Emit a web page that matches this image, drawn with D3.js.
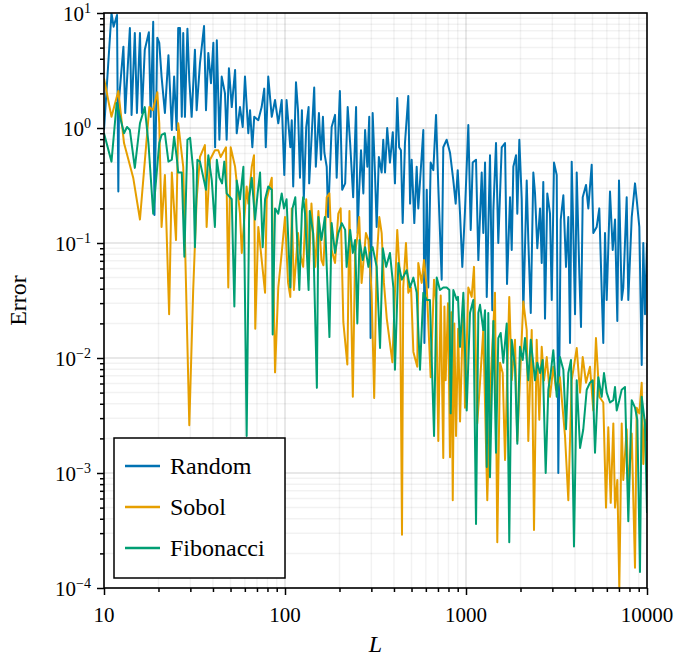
<!DOCTYPE html>
<html>
<head>
<meta charset="utf-8" />
<script src="https://d3js.org/d3.v7.min.js"></script>
<style>
  body { margin: 0; background: #fff; }
</style>
</head>
<body>
<svg width="678" height="660"></svg>
<script>
// Data (L, error)
var randomL = [10,11.0,11.3,11.8,12.0,12.1,12.8,13.1,13.9,14.2,14.8,15.2,15.8,16.2,16.8,17.7,18.1,18.7,19.0,19.7,20.2,20.8,21.7,22.7,23.7,24.4,25.2,25.7,26.3,26.9,27.4,28.0,28.9,29.6,30.5,31.8,32.5,33.9,35.7,36.6,37.7,39.0,40.2,41.1,42.0,43.4,44.7,46.6,47.6,49.0,50.8,53.0,54.1,56.4,58.4,60.1,62.7,64.1,66.0,67.6,71.2,74.3,76.8,78.3,80.8,84.5,88.1,91.8,95.9,99.1,102,107,109,111,115,118,121,124,127,131,135,136,140,145,148,154,158,162,165,170,173,181,189,193,201,207,215,222,229,238,247,252,256,263,271,277,285,292,297,305,314,321,330,342,349,357,367,380,394,405,417,427,437,447,460,480,491,501,518,534,545,564,581,589,607,619,638,660,683,703,734,749,782,816,851,877,900,927,954,987,1030,1062,1089,1136,1170,1221,1246,1274,1302,1357,1397,1416,1465,1508,1575,1643,1685,1751,1789,1826,1890,1921,1971,2032,2073,2165,2209,2279,2355,2406,2477,2565,2620,2673,2732,2813,2911,2977,3064,3171,3236,3337,3450,3569,3675,3755,3837,3917,4003,4090,4227,4319,4414,4603,4740,4949,5051,5273,5450,5618,5735,5861,5989,6246,6465,6657,6855,7003,7247,7396,7723,7883,8233,8585,8770,9069,9349,9541,9750,10000];
var randomErr = [0.96,10,7.6,9.6,0.28,1.75,5.1,1.35,7.4,1.3,6.7,1.35,6.7,1.35,4.8,6.8,1.25,8.4,0.175,6.1,5.5,2.8,1.35,4.3,0.96,2.8,0.96,7.4,7.4,1.25,6.7,1.25,7.3,2.6,1.25,4.8,1.43,3.65,7.7,1.43,4.5,2.45,5.5,0.68,5.8,0.79,2.8,2.0,0.79,3.3,1.52,3.2,0.9,1.52,1.02,2.8,0.9,1.43,0.68,1.25,1.17,1.52,2.2,0.68,2.8,1.25,1.75,1.1,1.75,0.39,1.75,0.68,1.17,0.31,2.5,1.43,0.37,1.43,0.24,1.02,1.52,0.33,0.79,2.25,0.46,1.35,0.53,1.25,0.61,0.46,0.168,1.02,1.3,0.37,2.1,0.29,0.33,1.52,0.74,0.25,1.52,0.122,0.25,0.64,0.27,0.96,0.46,1.25,0.0149,1.35,0.41,0.138,0.56,0.41,0.79,0.41,1.0,0.5,0.92,0.33,1.82,0.68,0.64,0.149,0.74,1.9,0.22,0.53,0.149,0.46,0.2,0.46,0.96,0.0135,0.29,0.041,0.5,0.43,1.3,0.31,0.048,0.68,0.79,0.61,0.35,0.22,0.43,0.18,0.062,0.19,1.06,0.13,0.5,0.53,0.071,0.41,0.122,0.5,0.034,0.58,0.026,0.19,0.74,0.1,0.68,0.74,0.044,0.25,0.087,0.46,0.58,0.18,0.79,0.24,0.0246,0.35,0.106,0.0246,0.41,0.27,0.09,0.2,0.067,0.34,0.022,0.27,0.18,0.032,0.5,0.39,0.001,0.16,0.26,0.062,0.168,0.0135,0.51,0.122,0.024,0.41,0.055,0.0186,0.25,0.32,0.2,0.48,0.122,0.138,0.2,0.039,0.0135,0.122,0.032,0.28,0.087,0.16,0.021,0.35,0.032,0.041,0.25,0.032,0.168,0.33,0.24,0.138,0.0087,0.1,0.024,0.1];

var sobolL = [10,11.0,12.0,12.9,14.5,15.8,17.8,18.6,19.7,20.2,20.8,21.7,22.9,23.7,25.0,25.7,27.4,29.6,31.1,32.5,33.9,36.1,36.9,38.5,41.0,42.8,44.1,47.2,48.6,50.1,53.0,56.4,57.7,61.4,62.7,65.5,67.4,68.5,71.2,77.6,79.2,84.5,88.1,91.8,95.9,100,104,107,109,112,118,121,126,131,135,140,143,147,153,159,163,170,176,181,189,197,203,210,221,227,237,244,251,257,265,280,289,301,311,321,332,342,352,365,392,417,432,443,450,466,480,497,512,538,545,569,586,607,638,666,685,703,725,749,760,772,795,816,830,845,862,881,905,927,967,987,1030,1075,1107,1154,1195,1246,1311,1369,1446,1489,1542,1595,1643,1734,1789,1865,1921,2005,2073,2165,2209,2307,2375,2458,2541,2620,2698,2793,2911,3036,3141,3304,3524,3675,3837,4090,4266,4414,4603,4842,5051,5224,5450,5735,5936,6112,6302,6516,6657,6855,7031,7247,7396,7723,7883,8233,8585,8770,9069,9349,9541,9750,10000];
var sobolErr = [2.7,1.25,2.1,0.74,0.37,0.16,1.52,1.43,2.05,1.1,0.138,0.39,0.024,0.41,0.106,1.1,0.46,0.0026,0.039,0.24,0.56,0.71,0.138,0.53,0.64,0.64,0.56,0.68,0.041,0.68,0.46,0.18,0.082,0.31,0.22,0.46,0.58,0.018,0.138,0.037,0.24,0.37,0.0075,0.041,0.082,0.168,0.045,0.034,0.2,0.039,0.122,0.082,0.062,0.24,0.048,0.22,0.122,0.062,0.19,0.071,0.064,0.25,0.27,0.087,0.067,0.18,0.2,0.0206,0.0088,0.19,0.0046,0.082,0.113,0.168,0.045,0.122,0.106,0.037,0.0045,0.071,0.168,0.122,0.045,0.022,0.0092,0.13,0.05,0.00029,0.041,0.1,0.037,0.041,0.0113,0.0084,0.067,0.045,0.071,0.041,0.0068,0.048,0.03,0.0019,0.035,0.00135,0.028,0.0064,0.03,0.00137,0.025,0.00058,0.02,0.0021,0.018,0.0028,0.032,0.0037,0.041,0.034,0.062,0.0027,0.0061,0.0175,0.00058,0.0064,0.037,0.00025,0.0091,0.0074,0.0013,0.034,0.0064,0.0144,0.0019,0.0091,0.031,0.0175,0.0019,0.0175,0.00032,0.0144,0.0029,0.0125,0.0064,0.0102,0.0046,0.0084,0.0053,0.0068,0.0021,0.00058,0.0064,0.0122,0.005,0.0102,0.0061,0.0084,0.0035,0.0149,0.0046,0.0041,0.0005,0.0025,0.00055,0.0027,0.0005,0.00087,0.0001,0.0027,0.00087,0.0024,0.00067,0.0022,0.00015,0.0037,0.0033,0.0061,0.0012,0.0029,0.0019];

var fibL = [10,11.0,11.75,12.9,13.4,13.9,14.8,15.8,16.8,17.6,18.7,20.2,20.8,21.7,22.7,23.7,24.4,25.2,25.7,26.9,27.8,28.9,29.9,31.1,31.8,32.8,33.9,36.6,37.7,39.4,41.0,42.0,43.4,44.9,46.2,47.6,50.8,52.5,54.1,56.4,58.9,61.4,63.5,65.5,68.3,70.6,72.8,75.3,77.6,80.8,84.5,85.5,88.1,91.8,95.9,98.7,102,107,110,114,120,124,126,129,135,137,143,150,153,159,166,176,181,189,197,206,215,219,229,237,244,251,258,269,277,289,295,305,321,335,347,362,380,397,405,423,442,470,491,512,534,557,581,607,632,666,689,718,749,782,809,823,851,889,903,927,967,1009,1052,1097,1136,1170,1195,1246,1274,1302,1328,1357,1416,1465,1508,1555,1607,1679,1734,1789,1865,1921,1987,2057,2118,2209,2279,2406,2477,2565,2653,2756,2850,2938,3036,3171,3304,3450,3569,3675,3802,3950,4090,4266,4446,4645,4842,5012,5161,5383,5618,5786,5989,6246,6516,6657,6802,7031,7247,7556,7883,8233,8585,8840,9146,9349,9750,10000];
var fibErr = [0.9,0.51,1.65,0.9,1.02,0.96,0.45,1.1,1.52,0.74,0.18,0.74,0.87,0.9,0.51,0.53,0.84,0.56,0.41,0.41,0.076,0.79,0.82,0.43,0.092,0.53,0.51,0.29,0.58,0.35,0.138,0.53,0.37,0.33,0.51,0.27,0.24,0.028,0.35,0.24,0.46,0.0021,0.25,0.37,0.16,0.27,0.41,0.092,0.24,0.31,0.29,0.016,0.2,0.18,0.27,0.2,0.24,0.041,0.2,0.25,0.039,0.19,0.25,0.18,0.039,0.19,0.122,0.0055,0.168,0.106,0.168,0.0152,0.149,0.082,0.122,0.149,0.13,0.062,0.13,0.082,0.106,0.02,0.106,0.071,0.092,0.062,0.082,0.092,0.062,0.0122,0.09,0.062,0.082,0.041,0.0079,0.067,0.048,0.058,0.041,0.05,0.037,0.0079,0.037,0.032,0.032,0.0021,0.05,0.039,0.041,0.041,0.039,0.0033,0.039,0.032,0.034,0.0125,0.037,0.0035,0.0246,0.032,0.00036,0.0246,0.029,0.0175,0.026,0.00113,0.0246,0.00092,0.021,0.0015,0.0149,0.0165,0.0091,0.02,0.00025,0.0144,0.0084,0.0018,0.0125,0.0096,0.0149,0.0064,0.0144,0.0064,0.0091,0.0074,0.0096,0.001,0.0053,0.0074,0.0117,0.0046,0.0102,0.0079,0.0024,0.0074,0.0096,0.00023,0.0064,0.00165,0.0024,0.0053,0.0061,0.0064,0.0015,0.0068,0.0046,0.0074,0.005,0.0041,0.0043,0.0056,0.0035,0.0043,0.0053,0.0056,0.00038,0.0043,0.0037,0.0029,0.000138,0.0046,0.0027,0.00045];

var seriesNames = ["Random", "Sobol", "Fibonacci"];
var seriesColors = ["#0072B2", "#E69F00", "#009E73"];
var xTickValues = [10, 100, 1000, 10000];
var xTickLabels = ["10", "100", "1000", "10000"];
var yTickValues = [10, 1, 0.1, 0.01, 0.001, 0.0001];
var yTickExponents = ["1", "0", "\u22121", "\u22122", "\u22123", "\u22124"];

var serif = "'Liberation Serif', 'DejaVu Serif', 'Times New Roman', serif";

var series = [
    { name: seriesNames[0], L: randomL, err: randomErr },
    { name: seriesNames[1], L: sobolL, err: sobolErr },
    { name: seriesNames[2], L: fibL, err: fibErr }
];

var svg = d3.select("svg");
var margin = { top: 13, right: 31, bottom: 72, left: 104 },
    width = +svg.attr("width") - margin.left - margin.right,
    height = +svg.attr("height") - margin.top - margin.bottom;

var x = d3.scaleLog().domain([10, 10000]).range([0, width]);
var y = d3.scaleLog().domain([1e-4, 10]).range([height, 0]);

var g = svg.append("g").attr("transform", "translate(" + margin.left + "," + margin.top + ")");

// minor and major grid
var xMinor = x.ticks().filter(function (d) { return xTickValues.indexOf(d) < 0; });
var yMinor = y.ticks().filter(function (d) { return !yTickValues.some(function (t) { return Math.abs(t - d) / t < 1e-6; }); });

g.append("g").selectAll("line").data(xMinor).enter().append("line")
    .attr("x1", function (d) { return x(d); }).attr("x2", function (d) { return x(d); })
    .attr("y1", 0).attr("y2", height)
    .attr("stroke", "#000").attr("stroke-opacity", 0.05).attr("stroke-width", 1.5);
g.append("g").selectAll("line").data(yMinor).enter().append("line")
    .attr("y1", function (d) { return y(d); }).attr("y2", function (d) { return y(d); })
    .attr("x1", 0).attr("x2", width)
    .attr("stroke", "#000").attr("stroke-opacity", 0.05).attr("stroke-width", 1.5);
g.append("g").selectAll("line").data(xTickValues).enter().append("line")
    .attr("x1", function (d) { return x(d); }).attr("x2", function (d) { return x(d); })
    .attr("y1", 0).attr("y2", height)
    .attr("stroke", "#000").attr("stroke-opacity", 0.12).attr("stroke-width", 1.5);
g.append("g").selectAll("line").data(yTickValues).enter().append("line")
    .attr("y1", function (d) { return y(d); }).attr("y2", function (d) { return y(d); })
    .attr("x1", 0).attr("x2", width)
    .attr("stroke", "#000").attr("stroke-opacity", 0.12).attr("stroke-width", 1.5);

// clip
svg.append("defs").append("clipPath").attr("id", "plotclip")
    .append("rect").attr("x", 0).attr("y", 0).attr("width", width).attr("height", height);

var line = d3.line()
    .x(function (d) { return x(d[0]); })
    .y(function (d) { return y(d[1]); });

var lines = g.append("g").attr("clip-path", "url(#plotclip)");
series.forEach(function (s, i) {
    var pts = s.L.map(function (l, k) { return [l, s.err[k]]; });
    lines.append("path")
        .datum(pts)
        .attr("d", line)
        .attr("fill", "none")
        .attr("stroke", seriesColors[i])
        .attr("stroke-width", 2)
        .attr("stroke-linejoin", "round");
});

// frame
g.append("rect").attr("x", 0).attr("y", 0).attr("width", width).attr("height", height)
    .attr("fill", "none").attr("stroke", "#000").attr("stroke-width", 1.6);

// axes ticks
var yMinorAxis = g.append("g").call(d3.axisLeft(y).tickValues(yMinor).tickSize(4).tickFormat(""));
var yMajorAxis = g.append("g").call(d3.axisLeft(y).tickValues(yTickValues).tickSize(7).tickFormat(""));
var xMinorAxis = g.append("g").attr("transform", "translate(0," + height + ")")
    .call(d3.axisBottom(x).tickValues(xMinor).tickSize(4).tickFormat(""));
var xMajorAxis = g.append("g").attr("transform", "translate(0," + height + ")")
    .call(d3.axisBottom(x).tickValues(xTickValues).tickSize(7).tickFormat(""));
[yMinorAxis, yMajorAxis, xMinorAxis, xMajorAxis].forEach(function (a) {
    a.select(".domain").remove();
    a.selectAll(".tick line").attr("stroke", "#000").attr("stroke-width", 1.5);
});

// y tick labels 10^k
var yl = g.append("g").selectAll("text").data(yTickValues).enter().append("text")
    .attr("x", -13)
    .attr("y", function (d) { return y(d) + 8; })
    .attr("text-anchor", "end")
    .attr("font-family", serif)
    .attr("font-size", 21);
yl.append("tspan").text("10");
yl.append("tspan").attr("dy", -8).attr("font-size", 14)
    .text(function (d, i) { return yTickExponents[i]; });

// x tick labels
g.append("g").selectAll("text").data(xTickValues).enter().append("text")
    .attr("x", function (d) { return x(d); })
    .attr("y", height + 34)
    .attr("text-anchor", "middle")
    .attr("font-family", serif)
    .attr("font-size", 21)
    .text(function (d, i) { return xTickLabels[i]; });

// axis titles
g.append("text")
    .attr("x", width / 2).attr("y", height + 64)
    .attr("text-anchor", "middle")
    .attr("font-family", serif)
    .attr("font-size", 24).attr("font-style", "italic")
    .text("L");
g.append("text")
    .attr("transform", "translate(" + (-78) + "," + (height / 2) + ") rotate(-90)")
    .attr("text-anchor", "middle")
    .attr("font-family", serif)
    .attr("font-size", 24)
    .text("Error");

// legend
var legend = svg.append("g").attr("transform", "translate(114,438)");
legend.append("rect").attr("width", 171).attr("height", 140)
    .attr("fill", "#fff").attr("stroke", "#000").attr("stroke-width", 1.5);
seriesNames.forEach(function (name, i) {
    var yy = 28 + i * 41;
    legend.append("line").attr("x1", 11).attr("x2", 46).attr("y1", yy).attr("y2", yy)
        .attr("stroke", seriesColors[i]).attr("stroke-width", 2.5);
    legend.append("text").attr("x", 56).attr("y", yy + 8)
        .attr("font-family", serif)
        .attr("font-size", 24).text(name);
});
</script>
</body>
</html>
